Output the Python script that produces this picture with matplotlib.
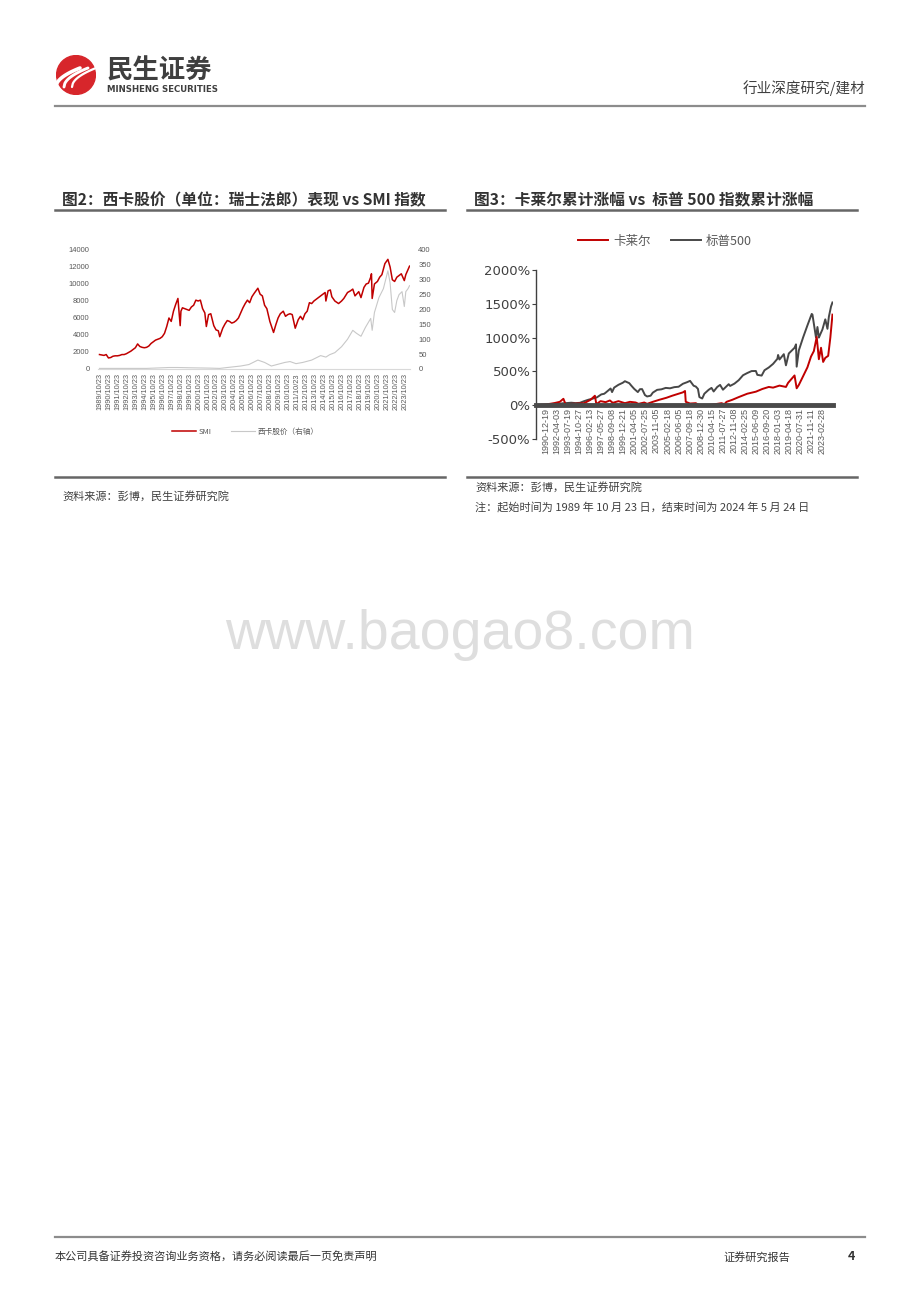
import numpy as np
import pandas as pd
import matplotlib
matplotlib.use("Agg")
import matplotlib.pyplot as plt
from matplotlib.lines import Line2D
from matplotlib.patches import Circle

plt.rcParams['font.family'] = ['Noto Sans CJK SC', 'DejaVu Sans']

W, H = 920, 1302

# ---- 图2 data: SMI (left axis) and Sika price (right axis)
smi_dates = ['1989-10', '1990-01', '1990-04', '1990-07', '1990-10', '1991-01', '1991-04', '1991-07',
             '1991-10', '1992-01', '1992-04', '1992-07', '1992-10', '1993-01', '1993-04', '1993-07',
             '1993-10', '1994-01', '1994-04', '1994-07', '1994-10', '1995-01', '1995-04', '1995-07',
             '1995-10', '1996-01', '1996-04', '1996-07', '1996-10', '1997-01', '1997-04', '1997-07',
             '1997-10', '1998-01', '1998-04', '1998-07', '1998-10', '1998-11', '1999-01', '1999-04',
             '1999-07', '1999-10', '2000-01', '2000-04', '2000-07', '2000-10', '2001-01', '2001-04',
             '2001-07', '2001-09', '2001-12', '2002-03', '2002-07', '2002-10', '2003-01', '2003-03',
             '2003-07', '2003-10', '2004-01', '2004-04', '2004-07', '2004-10', '2005-01', '2005-04',
             '2005-07', '2005-10', '2006-01', '2006-04', '2006-07', '2006-10', '2007-01', '2007-06',
             '2007-09', '2007-12', '2008-03', '2008-06', '2008-10', '2009-03', '2009-06', '2009-09',
             '2009-12', '2010-04', '2010-07', '2010-10', '2011-01', '2011-04', '2011-08', '2011-12',
             '2012-03', '2012-06', '2012-09', '2012-12', '2013-03', '2013-06', '2013-09', '2013-12',
             '2014-03', '2014-06', '2014-09', '2014-12', '2015-01', '2015-04', '2015-07', '2015-09',
             '2016-01', '2016-06', '2016-10', '2017-01', '2017-06', '2017-10', '2018-01', '2018-04',
             '2018-09', '2018-12', '2019-04', '2019-07', '2019-10', '2020-01', '2020-02', '2020-03',
             '2020-06', '2020-10', '2021-01', '2021-04', '2021-08', '2021-12', '2022-03', '2022-06',
             '2022-09', '2022-12', '2023-03', '2023-06', '2023-10', '2023-12', '2024-03', '2024-05']
smi_vals = [1700, 1650, 1600, 1700, 1300, 1350, 1500, 1550,
            1550, 1600, 1700, 1700, 1800, 1950, 2100, 2300,
            2500, 2950, 2650, 2550, 2500, 2550, 2700, 3000,
            3200, 3400, 3500, 3600, 3800, 4200, 5000, 6000,
            5600, 6800, 7600, 8300, 5100, 6800, 7200, 7100,
            7000, 6900, 7300, 7500, 8100, 8000, 8100, 7100,
            6600, 5000, 6400, 6500, 5100, 4600, 4500, 3800,
            4800, 5300, 5700, 5600, 5400, 5500, 5700, 6000,
            6600, 7200, 7700, 8100, 7800, 8500, 8900, 9500,
            8800, 8600, 7500, 7100, 5600, 4300, 5200, 6000,
            6500, 6800, 6200, 6400, 6500, 6400, 4800, 5800,
            6200, 5800, 6500, 6800, 7800, 7700, 8000, 8200,
            8400, 8600, 8800, 9000, 8000, 9200, 9300, 8500,
            8000, 7700, 8000, 8300, 9000, 9200, 9400, 8600,
            9100, 8400, 9600, 10000, 10100, 10800, 11200, 8300,
            10000, 10300, 10800, 11100, 12400, 12900, 12000, 10500,
            10300, 10800, 11000, 11200, 10400, 11100, 11700, 12100]

sika_dates = ['1989-10', '1995-01', '1997-07', '1998-07', '2000-01', '2002-01', '2003-03', '2004-01',
              '2005-07', '2006-06', '2007-06', '2008-03', '2008-12', '2009-06', '2010-06', '2011-01',
              '2011-09', '2012-06', '2013-06', '2014-06', '2015-01', '2015-06', '2016-01', '2016-10',
              '2017-06', '2018-01', '2018-06', '2018-12', '2019-06', '2020-01', '2020-03', '2020-06',
              '2020-12', '2021-06', '2021-12', '2022-03', '2022-06', '2022-09', '2022-12', '2023-03',
              '2023-07', '2023-10', '2023-12', '2024-03', '2024-05']
sika_vals = [2, 2, 5, 5, 4, 3, 2, 5,
             10, 15, 30, 22, 10, 14, 22, 25,
             18, 22, 30, 45, 40, 48, 55, 75,
             100, 130, 120, 110, 140, 170, 130, 190,
             240, 270, 330, 290, 200, 190, 230, 250,
             260, 210, 260, 270, 280]

left_ticks = ['%d/10/23' % y for y in range(1989, 2024)]

# ---- 图3 data: cumulative return (%)
car_dates = ['1989-10', '1990-06', '1991-03', '1991-12', '1992-08', '1993-01', '1993-04', '1993-12',
             '1994-10', '1995-06', '1996-03', '1996-09', '1996-11', '1997-05', '1997-12', '1998-06',
             '1998-10', '1999-06', '2000-03', '2000-10', '2001-06', '2001-10', '2002-06', '2002-10',
             '2003-06', '2004-03', '2005-01', '2005-09', '2006-06', '2006-12', '2007-03', '2007-04',
             '2007-10', '2008-06', '2008-12', '2009-03', '2009-09', '2010-06', '2010-12', '2011-06',
             '2011-10', '2012-01', '2012-09', '2013-06', '2014-06', '2015-06', '2016-03', '2016-12',
             '2017-06', '2018-03', '2018-12', '2019-03', '2019-12', '2020-03', '2020-06', '2020-12',
             '2021-06', '2021-11', '2022-03', '2022-07', '2022-10', '2023-01', '2023-04', '2023-07',
             '2023-11', '2024-02', '2024-05']
car_vals = [0, 5, 15, 30, 50, 95, 15, 20,
            25, 30, 80, 140, 15, 60, 45, 70,
            35, 60, 30, 50, 40, 20, 40, 20,
            50, 80, 110, 140, 170, 190, 210, 50,
            25, 30, -10, -15, 0, 10, 20, 30,
            15, 50, 80, 120, 170, 200, 240, 270,
            260, 290, 270, 330, 440, 250, 300, 430,
            560, 720, 800, 1010, 680, 850, 640, 700,
            730, 1000, 1340]

spx_dates = ['1989-10', '1990-01', '1990-07', '1990-10', '1991-03', '1991-12', '1992-06', '1992-12',
             '1993-06', '1993-12', '1994-06', '1994-12', '1995-06', '1995-12', '1996-06', '1996-12',
             '1997-06', '1997-10', '1997-12', '1998-07', '1998-09', '1998-12', '1999-06', '1999-12',
             '2000-03', '2000-09', '2000-12', '2001-04', '2001-09', '2001-12', '2002-03', '2002-07',
             '2002-10', '2003-03', '2003-06', '2003-12', '2004-06', '2004-12', '2005-06', '2005-12',
             '2006-06', '2006-12', '2007-06', '2007-10', '2008-03', '2008-06', '2008-09', '2008-11',
             '2009-03', '2009-06', '2009-12', '2010-04', '2010-07', '2010-12', '2011-04', '2011-08',
             '2011-12', '2012-04', '2012-06', '2012-12', '2013-06', '2013-12', '2014-06', '2014-12',
             '2015-06', '2015-08', '2016-02', '2016-06', '2016-12', '2017-06', '2017-12', '2018-01',
             '2018-03', '2018-09', '2018-12', '2019-04', '2019-12', '2020-02', '2020-03', '2020-06',
             '2020-12', '2021-06', '2021-12', '2022-01', '2022-06', '2022-08', '2022-10', '2022-12',
             '2023-03', '2023-07', '2023-10', '2023-12', '2024-03', '2024-05']
spx_vals = [0, -3, 6, -10, 10, 22, 20, 28,
            32, 37, 31, 35, 60, 81, 97, 117,
            160, 169, 185, 247, 194, 261, 302, 332,
            355, 326, 288, 241, 194, 237, 238, 150,
            129, 141, 186, 227, 235, 256, 250, 267,
            273, 317, 341, 360, 288, 276, 241, 120,
            99, 170, 228, 256, 203, 270, 300, 229,
            270, 311, 285, 319, 370, 443, 476, 505,
            506, 449, 438, 517, 558, 611, 686, 743,
            676, 755, 590, 765, 849, 900, 570, 811,
            1004, 1180, 1350, 1340, 1000, 1157, 1000, 1050,
            1120, 1270, 1130, 1310, 1460, 1520]

right_ticks = ['1990-12-19', '1992-04-03', '1993-07-19', '1994-10-27', '1996-02-13', '1997-05-27',
               '1998-09-08', '1999-12-21', '2001-04-05', '2002-07-25', '2003-11-05', '2005-02-18',
               '2006-06-05', '2007-09-18', '2008-12-30', '2010-04-15', '2011-07-27', '2012-11-08',
               '2014-02-25', '2015-06-09', '2016-09-20', '2018-01-03', '2019-04-18', '2020-07-31',
               '2021-11-11', '2023-02-28']


def fx(x):
    return x / W


def fy(y):
    return 1 - y / H


def hline(fig, x0, x1, y, color='#7f7f7f', lw=1.5):
    fig.add_artist(Line2D([fx(x0), fx(x1)], [fy(y), fy(y)], color=color, lw=lw))


fig = plt.figure(figsize=(W / 100, H / 100), dpi=100)
fig.patch.set_facecolor('white')

# ---- header
logo = fig.add_axes([fx(56), fy(95), fx(40), 40 / H])
logo.set_xlim(-1, 1)
logo.set_ylim(-1, 1)
logo.set_aspect('equal')
logo.axis('off')
logo.add_patch(Circle((0, 0), 0.97, color='#d7262b'))
t = np.linspace(0, 1, 30)
for k, off in enumerate([-0.45, -0.05, 0.35]):
    xs = -0.55 + off + 1.2 * t
    ys = -0.6 + 0.95 * t ** 0.5
    logo.plot(xs, ys, color='white', lw=2.6 - 0.5 * k, solid_capstyle='round')

fig.text(fx(107), fy(71), '民生证券', fontsize=19, fontweight='bold', color='#3f3f3f', va='center')
fig.text(fx(107), fy(90), 'MINSHENG SECURITIES', fontsize=6.2, fontweight='bold', color='#3f3f3f',
         va='center', family='DejaVu Sans')
fig.text(fx(865), fy(88), '行业深度研究/建材', fontsize=10.5, color='#404040', ha='right', va='center')
hline(fig, 55, 865, 106, color='#8c8c8c', lw=1.6)

# ---- titles
fig.text(fx(62), fy(200), '图2：西卡股价（单位：瑞士法郎）表现 vs SMI 指数', fontsize=11.3,
         fontweight='bold', color='#333333', va='center')
fig.text(fx(474), fy(200), '图3：卡莱尔累计涨幅 vs  标普 500 指数累计涨幅', fontsize=11.3,
         fontweight='bold', color='#333333', va='center')
hline(fig, 55, 445, 210, color='#666666', lw=1.8)
hline(fig, 467, 857, 210, color='#666666', lw=1.8)

# ---- chart 2
ax = fig.add_axes([fx(98), fy(369), 312 / W, 119 / H])
sd = pd.to_datetime(smi_dates, format='%Y-%m')
kd = pd.to_datetime(sika_dates, format='%Y-%m')
l1, = ax.plot(sd, smi_vals, color='#c00000', lw=1.1)
ax.set_ylim(0, 14000)
ax.set_yticks(range(0, 14001, 2000))
ax.set_xlim(pd.Timestamp('1989-08-01'), pd.Timestamp('2024-05-20'))
ax.set_xticks(pd.to_datetime(left_ticks, format='%Y/%m/%d'))
ax.set_xticklabels(left_ticks, rotation=90, fontsize=5.3, color='#595959', family='Liberation Sans')
ax.tick_params(axis='both', length=0)
ax.tick_params(axis='x', pad=3)
ax.tick_params(axis='y', pad=6, labelsize=5.5, labelcolor='#595959')
for s in ['top', 'left', 'right']:
    ax.spines[s].set_visible(False)
ax.spines['bottom'].set_color('#d9d9d9')
ax.spines['bottom'].set_linewidth(0.8)
axr = ax.twinx()
l2, = axr.plot(kd, sika_vals, color='#c8c8c8', lw=0.8)
axr.set_ylim(0, 400)
axr.set_yticks(range(0, 401, 50))
axr.tick_params(axis='y', length=0, pad=6, labelsize=5.5, labelcolor='#595959')
for s in axr.spines.values():
    s.set_visible(False)
ax.set_zorder(axr.get_zorder() + 1)
ax.patch.set_visible(False)
for lab in ax.get_yticklabels() + axr.get_yticklabels():
    lab.set_family('Liberation Sans')
fig.legend([l1, l2], ['SMI', '西卡股价（右轴）'], loc='center', bbox_to_anchor=(fx(245), fy(432)),
           ncol=2, frameon=False, fontsize=5.5, handlelength=3.2, columnspacing=2.5,
           labelcolor='#595959', handletextpad=0.3)

# ---- chart 3
ax2 = fig.add_axes([fx(536), fy(439), 297 / W, 169 / H])
ax2.spines['bottom'].set_position(('data', 0))
cd = pd.to_datetime(car_dates, format='%Y-%m')
pdx = pd.to_datetime(spx_dates, format='%Y-%m')
m1, = ax2.plot(cd, car_vals, color='#c00000', lw=1.4, zorder=3)
m2, = ax2.plot(pdx, spx_vals, color='#474747', lw=1.4, zorder=2)
ax2.set_ylim(-500, 2000)
ax2.set_yticks(range(-500, 2001, 500))
ax2.set_yticklabels(['%d%%' % v for v in range(-500, 2001, 500)], fontsize=9.5, color='#404040',
                    family='DejaVu Sans')
ax2.set_xlim(pd.Timestamp('1989-10-23'), pd.Timestamp('2024-05-24'))
ax2.set_xticks(pd.to_datetime(right_ticks))
ax2.set_xticklabels(right_ticks, rotation=90, fontsize=6.5, color='#595959', family='Liberation Sans')
ax2.spines['bottom'].set_color('#4a4a4a')
ax2.spines['bottom'].set_linewidth(3.5)
ax2.spines['bottom'].set_zorder(4)
ax2.spines['left'].set_color('#404040')
ax2.spines['left'].set_linewidth(1.0)
for s in ['top', 'right']:
    ax2.spines[s].set_visible(False)
ax2.tick_params(axis='x', length=0, pad=2)
ax2.tick_params(axis='y', length=3, pad=1, color='#404040')
fig.legend([m1, m2], ['卡莱尔', '标普500'], loc='center', bbox_to_anchor=(fx(665), fy(241)),
           ncol=2, frameon=False, fontsize=9, handlelength=2.4, columnspacing=1.6,
           labelcolor='#595959', handletextpad=0.4)

# ---- notes
hline(fig, 55, 445, 477, color='#666666', lw=1.8)
hline(fig, 467, 857, 477, color='#666666', lw=1.8)
fig.text(fx(62), fy(497), '资料来源：彭博，民生证券研究院', fontsize=8, color='#404040', va='center')
fig.text(fx(475), fy(488), '资料来源：彭博，民生证券研究院', fontsize=8, color='#404040', va='center')
fig.text(fx(475), fy(507), '注：起始时间为 1989 年 10 月 23 日，结束时间为 2024 年 5 月 24 日', fontsize=8,
         color='#404040', va='center')

# ---- watermark
fig.text(fx(460), fy(635), 'www.baogao8.com', fontsize=40, color='#dedede', ha='center', va='center',
         family='Liberation Sans')

# ---- footer
hline(fig, 55, 865, 1237, color='#8c8c8c', lw=1.6)
fig.text(fx(55), fy(1257), '本公司具备证券投资咨询业务资格，请务必阅读最后一页免责声明', fontsize=8,
         color='#333333', va='center')
fig.text(fx(790), fy(1257), '证券研究报告', fontsize=8, color='#333333', va='center', ha='right')
fig.text(fx(855), fy(1257), '4', fontsize=9, color='#333333', va='center', ha='right', fontweight='bold')

fig.savefig('out.png', dpi=100)
